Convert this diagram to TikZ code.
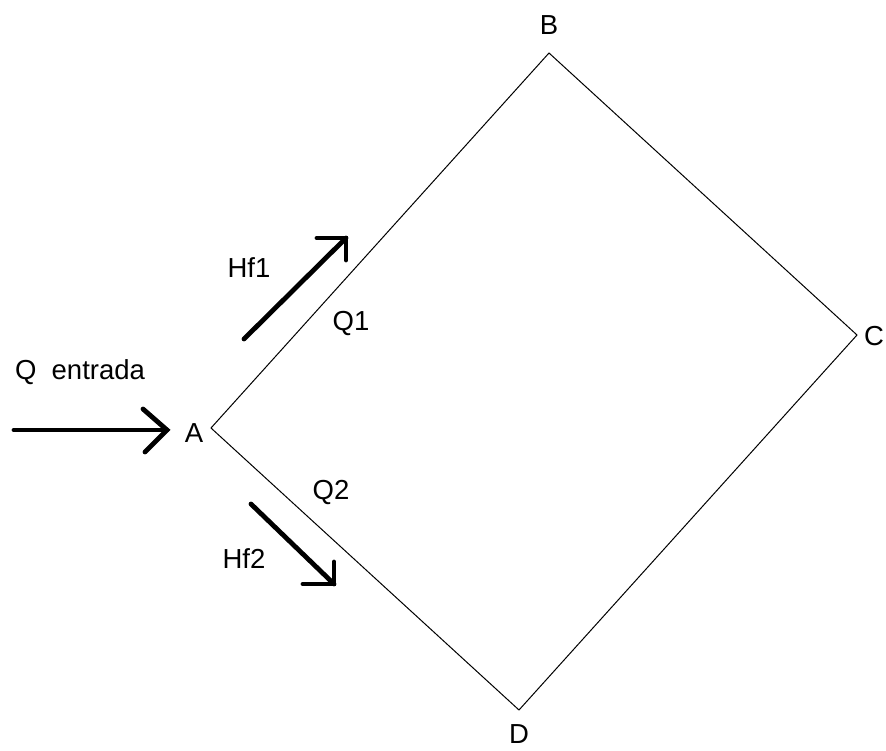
\documentclass[tikz,border=0pt]{standalone}
\usepackage{fontspec}
\setmainfont{Liberation Sans}
\begin{document}
\begin{tikzpicture}[x=1pt,y=-1pt,
  lbl/.style={font=\fontsize{27.5}{31}\selectfont, inner sep=0pt},
  edge/.style={line width=1pt, black},
  flow/.style={line width=4.8pt, black, line cap=round, line join=miter}]
\useasboundingbox (0,0) rectangle (886,751);
\coordinate (A) at (211,428);
\coordinate (B) at (549,53);
\coordinate (C) at (857,335);
\coordinate (D) at (519,710);
\draw[edge] (A) -- (B) -- (C) -- (D) -- cycle;
\node[lbl] (lA) at (194,433) {A};
\node[lbl] (lB) at (549,25) {B};
\node[lbl,anchor=west] (lC) at (864,336) {C};
\node[lbl,anchor=base,text depth=0pt] (lD) at (519,743) {D};
\node[lbl] (lQ) at (80,372) {Q\ \ entrada};
\node[lbl] (lHf1) at (249,268) {Hf1};
\node[lbl] (lQ1) at (351,323) {Q1};
\node[lbl] (lQ2) at (331,492) {Q2};
\node[lbl] (lHf2) at (244,559) {Hf2};
% input arrow
\coordinate (e0) at (14,430);
\coordinate (e1) at (167,430);
\draw[flow] (e0) -- (e1);
\draw[flow] (143,409) -- (e1) -- (145,452);
% Hf1 arrow
\coordinate (h0) at (244,339);
\coordinate (h1) at (346,238);
\draw[flow] (h0) -- (h1);
\draw[flow] (317,238) -- (h1) -- (346,260);
% Hf2 arrow
\coordinate (g0) at (251,504);
\coordinate (g1) at (334,584);
\draw[flow] (g0) -- (g1);
\draw[flow] (334,562) -- (g1) -- (303,584);
\end{tikzpicture}
\end{document}
